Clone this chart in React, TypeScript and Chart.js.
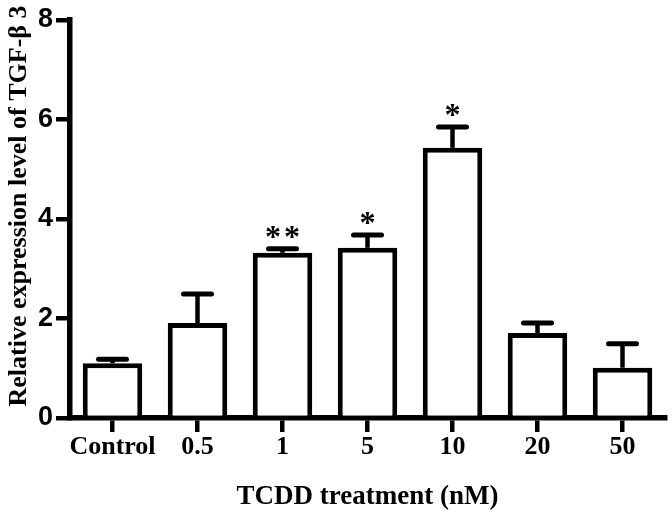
import React, { useEffect, useRef } from "react";
import { Chart, registerables } from "chart.js";

Chart.register(...registerables);

const categories = ["Control", "0.5", "1", "5", "10", "20", "50"];
const means = [1.1, 1.91, 3.32, 3.42, 5.43, 1.71, 1.01];
const errors = [0.08, 0.58, 0.08, 0.26, 0.42, 0.2, 0.48];
const stars = ["", "", "**", "*", "*", "", ""];
const yTicks = [0, 2, 4, 6, 8];
const yTitle = "    Relative expression level of TGF-\u03b2 3";
const xTitle = "TCDD treatment (nM)";

const errorBarPlugin = {
  id: "errorBars",
  afterDatasetsDraw(chart: any) {
    const ctx = chart.ctx;
    const meta = chart.getDatasetMeta(0);
    const yScale = chart.scales.y;
    ctx.save();
    ctx.strokeStyle = "#000";
    meta.data.forEach((bar: any, i: number) => {
      const x = bar.x;
      const yTop = yScale.getPixelForValue(means[i]);
      const yErr = yScale.getPixelForValue(means[i] + errors[i]);
      ctx.lineCap = "butt";
      ctx.lineWidth = 4.5;
      ctx.beginPath();
      ctx.moveTo(x, yTop);
      ctx.lineTo(x, yErr);
      ctx.stroke();
      ctx.lineCap = "round";
      ctx.lineWidth = 5;
      ctx.beginPath();
      ctx.moveTo(x - 14, yErr);
      ctx.lineTo(x + 14, yErr);
      ctx.stroke();
      const s = stars[i];
      if (s) {
        ctx.fillStyle = "#000";
        ctx.font = "bold 32px 'Liberation Serif'";
        ctx.textAlign = "center";
        ctx.textBaseline = "alphabetic";
        const m = ctx.measureText("*");
        const yc = yErr - 17;
        const base = yc + (m.actualBoundingBoxAscent - m.actualBoundingBoxDescent) / 2;
        const n = s.length;
        const gap = 19;
        for (let k = 0; k < n; k++) {
          const dx = (k - (n - 1) / 2) * gap;
          ctx.fillText("*", x + dx, base);
        }
      }
    });
    ctx.restore();
  },
};

export default function App() {
  const canvasRef = useRef<HTMLCanvasElement | null>(null);

  useEffect(() => {
    document.body.style.margin = "0";
    const canvas = canvasRef.current;
    if (!canvas) return;
    const chart = new Chart(canvas, {
      type: "bar",
      data: {
        labels: categories,
        datasets: [
          {
            data: means,
            backgroundColor: "#ffffff",
            borderColor: "#000000",
            borderWidth: 5,
            barPercentage: 0.7,
            categoryPercentage: 1,
          },
        ],
      },
      options: {
        animation: false,
        responsive: true,
        maintainAspectRatio: false,
        layout: { padding: { top: 20, right: 7, bottom: 0, left: 0 } },
        plugins: {
          legend: { display: false },
          tooltip: { enabled: false },
        },
        scales: {
          x: {
            offset: true,
            afterFit: (scale: any) => {
              scale.height = 95;
            },
            grid: {
              display: true,
              offset: false,
              drawOnChartArea: false,
              drawTicks: true,
              tickLength: 14,
              lineWidth: 4.5,
              color: "#000",
            },
            border: { display: true, width: 5.5, color: "#000" },
            ticks: {
              color: "#000",
              padding: 0,
              maxRotation: 0,
              minRotation: 0,
              autoSkip: false,
              font: { family: "'Liberation Serif'", weight: "bold", size: 26 },
            },
            title: {
              display: true,
              text: xTitle,
              color: "#000",
              padding: { top: 0, bottom: 0 },
              font: { family: "'Liberation Serif'", weight: "bold", size: 27 },
            },
          },
          y: {
            min: 0,
            max: 8,
            afterFit: (scale: any) => {
              scale.width = 70;
            },
            afterBuildTicks: (scale: any) => {
              scale.ticks = yTicks.map((v) => ({ value: v }));
            },
            grid: {
              display: true,
              drawOnChartArea: false,
              drawTicks: true,
              tickLength: 14,
              lineWidth: 4.5,
              color: "#000",
            },
            border: { display: true, width: 5.5, color: "#000" },
            ticks: {
              color: "#000",
              padding: 3,
              font: { family: "'Liberation Sans'", weight: "bold", size: 27 },
            },
            title: {
              display: true,
              text: yTitle,
              color: "#000",
              padding: { top: 4, bottom: 0 },
              font: { family: "'Liberation Serif'", weight: "bold", size: 26 },
            },
          },
        },
      },
      plugins: [errorBarPlugin],
    });
    return () => chart.destroy();
  }, []);

  return (
    <div style={{ width: 672, height: 513, position: "relative" }}>
      <canvas ref={canvasRef} />
    </div>
  );
}
